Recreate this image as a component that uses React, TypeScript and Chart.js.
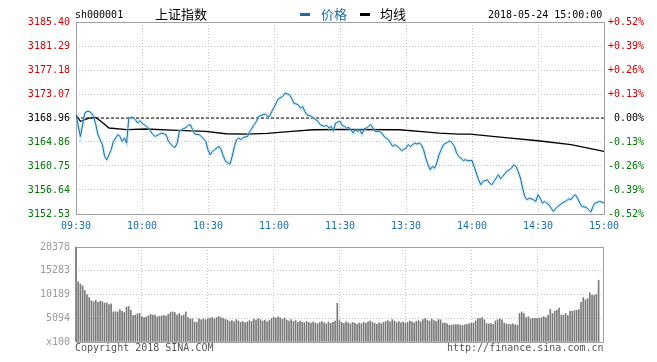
import React, { useEffect, useRef } from "react";
import { Chart, registerables } from "chart.js";
Chart.register(...registerables);

const stockCode = "sh000001";
const stockName = "上证指数";
const legendPrice = "价格";
const legendAvg = "均线";
const dateText = "2018-05-24 15:00:00";
const copyrightText = "Copyright 2018 SINA.COM";
const siteText = "http://finance.sina.com.cn";

const prevClose = 3168.96;
const priceTicks = [3152.53, 3156.64, 3160.75, 3164.86, 3168.96, 3173.07, 3177.18, 3181.29, 3185.4];
const priceTickLabels = ["3152.53", "3156.64", "3160.75", "3164.86", "3168.96", "3173.07", "3177.18", "3181.29", "3185.40"];
const pctLabels = ["-0.52%", "-0.39%", "-0.26%", "-0.13%", " 0.00%", "+0.13%", "+0.26%", "+0.39%", "+0.52%"];
const timeTickMinutes = [0, 30, 60, 90, 120, 150, 180, 210, 240];
const timeLabels = ["09:30", "10:00", "10:30", "11:00", "11:30", "13:30", "14:00", "14:30", "15:00"];

const priceMinutes = [
  0, 2, 4, 5, 6, 7, 8, 9, 10, 12, 13, 14, 16, 17, 19, 20, 21, 22, 23, 24, 26, 27, 28, 29, 30, 31, 32, 33, 35, 36,
  38, 39, 41, 42, 44, 45, 46, 47, 48, 50, 51, 52, 53, 54, 56, 57, 59, 60, 61, 62, 63, 65, 66, 67, 68, 70, 71, 72, 73, 74,
  75, 76, 78, 79, 81, 82, 83, 85, 86, 87, 88, 89, 91, 92, 94, 95, 97, 98, 99, 101, 102, 103, 104, 105, 107, 108, 110, 111, 113, 114,
  115, 116, 117, 118, 119, 120, 121, 122, 123, 124, 125, 126, 127, 128, 129, 130, 131, 132, 133, 134, 135, 136, 137, 138, 139, 140, 142, 143, 144, 145,
  146, 147, 148, 150, 151, 152, 153, 154, 155, 156, 157, 158, 159, 160, 161, 162, 163, 164, 165, 166, 167, 169, 170, 171, 172, 173, 174, 175, 176, 177,
  178, 180, 181, 183, 184, 185, 187, 188, 189, 190, 191, 192, 193, 194, 196, 197, 198, 199, 200, 201, 202, 203, 204, 205, 206, 208, 209, 210, 211, 212,
  213, 215, 216, 217, 218, 219, 220, 221, 223, 224, 225, 226, 227, 228, 229, 230, 232, 233, 234, 235, 236, 238, 239, 240,
];
const priceValues = [
  3169.5, 3165.8, 3169.81, 3170.09, 3170.09, 3169.81, 3169.24, 3167.81, 3166.1, 3164.39, 3162.39, 3161.82, 3163.53, 3164.96, 3166.1, 3165.81, 3164.96, 3165.53, 3164.67, 3168.95, 3169.07, 3168.67, 3168.1, 3168.5, 3168.1, 3167.81, 3167.53, 3167.24, 3166.1, 3165.81,
  3166.21, 3166.38, 3166.1, 3164.96, 3164.1, 3163.93, 3164.67, 3166.67, 3166.95, 3167.35, 3167.7, 3167.81, 3166.95, 3166.21, 3166.1, 3165.81, 3164.96, 3163.5, 3162.67, 3163.24, 3163.53, 3164.1, 3163.53, 3162.39, 3161.53, 3161.07, 3162.39, 3164.1, 3165.24, 3165.53,
  3165.24, 3165.64, 3165.81, 3166.67, 3167.81, 3168.38, 3169.24, 3169.52, 3169.64, 3169.24, 3169.24, 3170.09, 3171.52, 3172.26, 3172.66, 3173.23, 3172.95, 3172.38, 3171.52, 3171.24, 3170.66, 3170.95, 3170.09, 3169.52, 3169.24, 3168.95, 3168.38, 3167.81, 3167.53, 3167.7,
  3167.24, 3167.53, 3166.78, 3168.1, 3168.27, 3168.4, 3167.7, 3167.53, 3167.24, 3167.35, 3166.95, 3166.38, 3166.95, 3166.67, 3166.95, 3166.21, 3167.12, 3167.24, 3167.53, 3167.81, 3167.24, 3166.67, 3166.67, 3166.67, 3166.38, 3165.81, 3165.24, 3164.67, 3164.1, 3164.39,
  3164.1, 3163.82, 3163.36, 3163.82, 3164.39, 3164.1, 3164.39, 3164.67, 3164.5, 3164.67, 3164.39, 3163.53, 3162.1, 3160.96, 3160.1, 3160.67, 3160.39, 3161.25, 3162.67, 3163.53, 3164.39, 3164.84, 3165.07, 3164.67, 3164.1, 3162.96, 3162.39, 3162.1, 3161.65, 3161.82,
  3161.65, 3161.7, 3160.6, 3158.39, 3157.54, 3158.11, 3158.39, 3157.82, 3157.54, 3158.11, 3158.68, 3159.25, 3158.56, 3158.96, 3159.93, 3160.1, 3160.39, 3160.96, 3160.67, 3159.82, 3158.68, 3156.96, 3155.54, 3154.97, 3155.25, 3154.97, 3154.68, 3155.82, 3155.25, 3154.4,
  3154.68, 3154.11, 3153.54, 3152.97, 3153.43, 3153.83, 3154.11, 3154.4, 3154.8, 3155.14, 3154.97, 3155.54, 3155.82, 3155.25, 3154.4, 3153.83, 3153.65, 3153.26, 3152.86, 3153.83, 3154.4, 3154.68, 3154.57, 3154.4,
];

const avgMinutes = [0, 2, 6, 9, 12, 15, 23, 32, 46, 59, 68, 78, 87, 98, 108, 120, 147, 160, 165, 174, 179, 194, 210, 225, 240];
const avgValues = [
  3169.5, 3168.4, 3168.96, 3169.07, 3168.2, 3167.25, 3166.96, 3167.08, 3166.84, 3166.67, 3166.27, 3166.21, 3166.33, 3166.67, 3166.95,
  3167.0, 3166.95, 3166.55, 3166.38, 3166.21, 3166.21, 3165.64, 3165.07, 3164.39, 3163.24,
];

const volumeTicks = [0, 5094, 10189, 15283, 20378];
const volumeTickLabels = ["x100", "5094", "10189", "15283", "20378"];
const volumes = [
  20378, 12913, 12438, 12030, 11080, 10197, 9520, 8840, 8637, 8975, 8500, 8705, 8637, 8365, 8365, 8026, 8162, 6460, 6460, 6460,
  6936, 6600, 6330, 7480, 7615, 6800, 5645, 5780, 6050, 6120, 5373, 5237, 5373, 5645, 5917, 5780, 5780, 5373, 5510, 5645,
  5645, 5577, 5917, 6330, 6460, 6330, 5780, 6120, 5645, 5780, 6460, 5237, 4965, 4965, 4287, 4220, 4965, 4760, 4965, 4760,
  4965, 5100, 5237, 4965, 5237, 5440, 5237, 5100, 4900, 4700, 4400, 4600, 4300, 4800, 4500, 4200, 4400, 4100, 4300, 4600,
  4400, 4900, 4700, 5000, 4800, 4500, 4700, 4300, 4600, 5000, 5300, 5100, 5400, 5200, 4900, 5100, 4700, 4500, 4800, 4400,
  4600, 4200, 4500, 4300, 4100, 4400, 4200, 4000, 4300, 4100, 3900, 4200, 4400, 4100, 3900, 4300, 4000, 4200, 4500, 8300,
  4600, 4200, 4000, 4300, 4100, 3900, 4200, 4000, 3800, 4100, 3900, 4200, 4000, 4300, 4500, 4200, 4000, 3800, 4100, 3900,
  4200, 4400, 4600, 4300, 4800, 4500, 4200, 4400, 4100, 4300, 4000, 4200, 4500, 4300, 4100, 4400, 4600, 4300, 4800, 5000,
  4700, 4500, 4900, 4600, 4400, 4800, 4762, 4082, 4082, 3878, 3607, 3607, 3700, 3743, 3743, 3650, 3540, 3700, 3743, 3878,
  4000, 4082, 4558, 5000, 5101, 5237, 4762, 3947, 3878, 3947, 3743, 4500, 4762, 4966, 4762, 4082, 3878, 3800, 3743, 3878,
  3700, 3607, 6120, 6460, 6120, 5237, 5441, 4966, 5101, 5101, 5101, 5101, 5237, 5441, 5237, 5700, 7004, 6120, 6596, 6800,
  7275, 5781, 5781, 6120, 5645, 6596, 6600, 6731, 6800, 6935, 8498, 9517, 9041, 9313, 10535, 9992, 9992, 10195, 13252,
];

const MONO = '"DejaVu Sans Mono", "Liberation Mono", monospace';
const CJK = '"Noto Sans CJK SC", "Noto Sans", sans-serif';
const RED = "#d40000";
const GREEN = "#007a00";
const BLUE = "#1a6fab";
const GRID = "#c4c4c4";
const FRAME = "#a0a0a0";

const framePlugin = {
  id: "frame",
  beforeDatasetsDraw(chart: any) {
    const { ctx, chartArea: a } = chart;
    ctx.save();
    ctx.strokeStyle = FRAME;
    ctx.lineWidth = 1;
    ctx.setLineDash([]);
    ctx.strokeRect(Math.round(a.left) + 0.5, Math.round(a.top) + 0.5, Math.round(a.right - a.left), Math.round(a.bottom - a.top));
    ctx.restore();
  },
};

function tickColor(v: number) {
  if (v > prevClose + 0.001) return RED;
  if (v < prevClose - 0.001) return GREEN;
  return "#000";
}

export default function App() {
  const priceRef = useRef<HTMLCanvasElement>(null);
  const volRef = useRef<HTMLCanvasElement>(null);

  useEffect(() => {
    const pricePts = priceMinutes.map((m, i) => ({ x: m, y: priceValues[i] }));
    const avgPts = avgMinutes.map((m, i) => ({ x: m, y: avgValues[i] }));
    const closePts = [
      { x: timeTickMinutes[0], y: prevClose },
      { x: timeTickMinutes[timeTickMinutes.length - 1], y: prevClose },
    ];
    const font = { family: MONO, size: 10 };

    const priceChart = new Chart(priceRef.current!, {
      type: "line",
      data: {
        datasets: [
          { data: pricePts, borderColor: "#216a9e", borderWidth: 1, pointRadius: 0, tension: 0 },
          { data: pricePts, borderColor: "rgba(150,215,242,0.5)", borderWidth: 3, pointRadius: 0, tension: 0 },
          { data: avgPts, borderColor: "#000", borderWidth: 1.3, pointRadius: 0, tension: 0 },
          { data: closePts, borderColor: "#000", borderWidth: 1, borderDash: [3, 2], pointRadius: 0 },
        ],
      },
      options: {
        animation: false,
        responsive: false,
        events: [],
        layout: { padding: { top: 22, left: 0, right: 0, bottom: 0 } },
        plugins: { legend: { display: false }, tooltip: { enabled: false }, title: { display: false } },
        scales: {
          x: {
            type: "linear",
            min: 0,
            max: 240,
            afterBuildTicks: (s: any) => {
              s.ticks = timeTickMinutes.map((v) => ({ value: v }));
            },
            afterFit: (s: any) => {
              s.height = 21;
            },
            grid: { color: GRID, drawTicks: false, lineWidth: 1 },
            border: { display: false, dash: [1, 2] },
            ticks: {
              autoSkip: false,
              maxRotation: 0,
              padding: 6,
              color: BLUE,
              font,
              callback: (_v: any, i: number) => timeLabels[i],
            },
          },
          y: {
            type: "linear",
            position: "left",
            min: priceTicks[0],
            max: priceTicks[priceTicks.length - 1],
            afterBuildTicks: (s: any) => {
              s.ticks = priceTicks.map((v) => ({ value: v }));
            },
            afterFit: (s: any) => {
              s.width = 76;
            },
            grid: { color: GRID, drawTicks: false },
            border: { display: false, dash: [1, 2] },
            ticks: {
              padding: 6,
              font,
              color: (c: any) => tickColor(c.tick.value),
              callback: (_v: any, i: number) => priceTickLabels[i],
            },
          },
          y1: {
            type: "linear",
            position: "right",
            min: priceTicks[0],
            max: priceTicks[priceTicks.length - 1],
            afterBuildTicks: (s: any) => {
              s.ticks = priceTicks.map((v) => ({ value: v }));
            },
            afterFit: (s: any) => {
              s.width = 53;
            },
            grid: { drawOnChartArea: false, drawTicks: false },
            border: { display: false },
            ticks: {
              padding: 4,
              font,
              color: (c: any) => tickColor(c.tick.value),
              callback: (_v: any, i: number) => pctLabels[i],
            },
          },
        },
      },
      plugins: [framePlugin],
    } as any);

    const volPts = volumes.map((v, i) => ({ x: i, y: v }));
    const volChart = new Chart(volRef.current!, {
      type: "bar",
      data: {
        datasets: [{ data: volPts, backgroundColor: "#7a7a7a", barThickness: 1, borderWidth: 0, clip: 2 }],
      },
      options: {
        animation: false,
        responsive: false,
        events: [],
        layout: { padding: { top: 7, left: 0, right: 54, bottom: 0 } },
        plugins: { legend: { display: false }, tooltip: { enabled: false } },
        scales: {
          x: {
            type: "linear",
            min: 0,
            max: 240,
            offset: false,
            afterBuildTicks: (s: any) => {
              s.ticks = timeTickMinutes.map((v) => ({ value: v }));
            },
            afterFit: (s: any) => {
              s.height = 20;
            },
            grid: { color: GRID, drawTicks: false, offset: false },
            border: { display: false, dash: [1, 2] },
            ticks: { display: false },
          },
          y: {
            type: "linear",
            min: volumeTicks[0],
            max: volumeTicks[volumeTicks.length - 1],
            afterBuildTicks: (s: any) => {
              s.ticks = volumeTicks.map((v) => ({ value: v }));
            },
            afterFit: (s: any) => {
              s.width = 76;
            },
            grid: { color: GRID, drawTicks: false },
            border: { display: false, dash: [1, 2] },
            ticks: {
              padding: 6,
              font,
              color: "#9a9a9a",
              callback: (_v: any, i: number) => volumeTickLabels[i],
            },
          },
        },
      },
      plugins: [framePlugin],
    } as any);

    return () => {
      priceChart.destroy();
      volChart.destroy();
    };
  }, []);

  const mono: React.CSSProperties = {
    position: "absolute",
    fontFamily: MONO,
    fontSize: 10,
    lineHeight: "10px",
    whiteSpace: "nowrap",
  };
  const cjk: React.CSSProperties = {
    position: "absolute",
    fontFamily: CJK,
    fontSize: 13,
    lineHeight: "13px",
    whiteSpace: "nowrap",
  };

  return (
    <div style={{ position: "fixed", left: 0, top: 0, width: 657, height: 362, background: "#fff", overflow: "hidden" }}>
      <canvas ref={priceRef} width={657} height={235} style={{ position: "absolute", left: 0, top: 0 }} />
      <canvas ref={volRef} width={657} height={127} style={{ position: "absolute", left: 0, top: 235 }} />
      <div style={{ ...mono, left: 75, top: 10, color: "#000" }}>{stockCode}</div>
      <div style={{ ...cjk, left: 155, top: 7, color: "#000" }}>{stockName}</div>
      <div style={{ position: "absolute", left: 300, top: 13, width: 10, height: 3, background: "#216a9e" }} />
      <div style={{ ...cjk, left: 321, top: 7, color: BLUE }}>{legendPrice}</div>
      <div style={{ position: "absolute", left: 360, top: 13, width: 10, height: 3, background: "#000" }} />
      <div style={{ ...cjk, left: 380, top: 7, color: "#000" }}>{legendAvg}</div>
      <div style={{ ...mono, left: 488, top: 10, color: "#000" }}>{dateText}</div>
      <div style={{ ...mono, left: 75, top: 343, color: "#555" }}>{copyrightText}</div>
      <div style={{ ...mono, left: 447, top: 343, color: "#555" }}>{siteText}</div>
    </div>
  );
}
